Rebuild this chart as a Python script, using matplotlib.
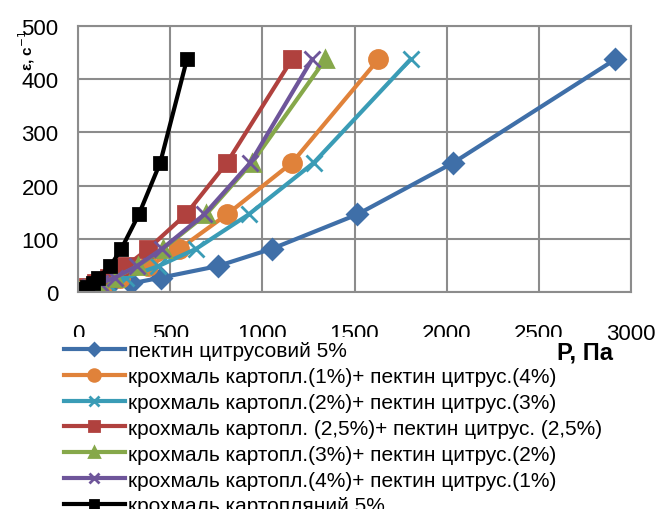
import numpy as np
import matplotlib.pyplot as plt

plt.rcParams['font.family'] = ['Liberation Sans', 'DejaVu Sans']

# shear rate, 1/s
gamma = [1.5, 3, 5.4, 9, 16.2, 27, 48.6, 81, 145.8, 243, 437.4]

# shear stress P, Pa for each sample
p_pectin5 = [20, 50, 90, 160, 290, 450, 757, 1050, 1515, 2036, 2915]
p_s1_p4 = [10, 25, 45, 80, 140, 230, 380, 550, 808, 1161, 1630]
p_s2_p3 = [10, 25, 50, 90, 160, 260, 436, 640, 926, 1279, 1804]
p_s25_p25 = [5, 15, 30, 55, 100, 170, 260, 380, 585, 808, 1161]
p_s3_p2 = [5, 15, 35, 65, 120, 200, 325, 460, 695, 944, 1342]
p_s4_p1 = [5, 15, 35, 65, 120, 200, 319, 455, 685, 935, 1270]
p_starch5 = [5, 15, 30, 50, 80, 110, 175, 235, 330, 446, 591]

labels = [
    'пектин цитрусовий 5%',
    'крохмаль картопл.(1%)+ пектин цитрус.(4%)',
    'крохмаль картопл.(2%)+ пектин цитрус.(3%)',
    'крохмаль картопл. (2,5%)+ пектин цитрус. (2,5%)',
    'крохмаль картопл.(3%)+ пектин цитрус.(2%)',
    'крохмаль картопл.(4%)+ пектин цитрус.(1%)',
    'крохмаль картопляний 5%',
]
series = [p_pectin5, p_s1_p4, p_s2_p3, p_s25_p25, p_s3_p2, p_s4_p1, p_starch5]
colors = ['#3F6FA8', '#E0823A', '#3A9CB6', '#B0413E', '#86A84A', '#6E559A', '#000000']
markers = ['D', 'o', 'x', 's', '^', 'x', 's']
msizes = [10, 13, 12, 12, 12, 12, 9]

fig = plt.figure(figsize=(6.59, 5.10), dpi=100)
ax = fig.add_axes([78/659, 1-293/510, (631-78)/659, (293-27)/510])

for xs, lab, c, m, ms in zip(series, labels, colors, markers, msizes):
    ax.plot(xs, gamma, color=c, lw=3, marker=m, ms=ms, mew=2, label=lab)

ax.set_xlim(0, 3000)
ax.set_ylim(0, 500)
ax.set_xticks(np.arange(0, 3001, 500))
ax.set_yticks(np.arange(0, 501, 100))
ax.grid(True, color='#8c8c8c', lw=1.5)
ax.set_axisbelow(True)
for s in ax.spines.values():
    s.set_color('#8c8c8c')
    s.set_linewidth(1.5)
ax.tick_params(axis='both', length=0, labelsize=16)
ax.tick_params(axis='x', pad=22)
ax.tick_params(axis='y', pad=14)

h, l = ax.get_legend_handles_labels()
leg = fig.legend(h, l, loc='upper left', bbox_to_anchor=(60/659, 1-338/510),
                 fontsize=15, frameon=True, fancybox=False, edgecolor='none',
                 facecolor='white', framealpha=1, handlelength=2.9,
                 handletextpad=0.15, labelspacing=0.33, borderpad=0.2,
                 borderaxespad=0, markerscale=0.65)

fig.text(585/659, 1-353/510, 'Р, Па', fontsize=17, fontweight='bold',
         ha='center', va='center', zorder=10)
fig.text(27/659, 1-50/510, 'ε, с$^{-1}$', fontsize=11, fontweight='bold',
         rotation=90, ha='center', va='center')

fig.savefig('out.png', dpi=100)
